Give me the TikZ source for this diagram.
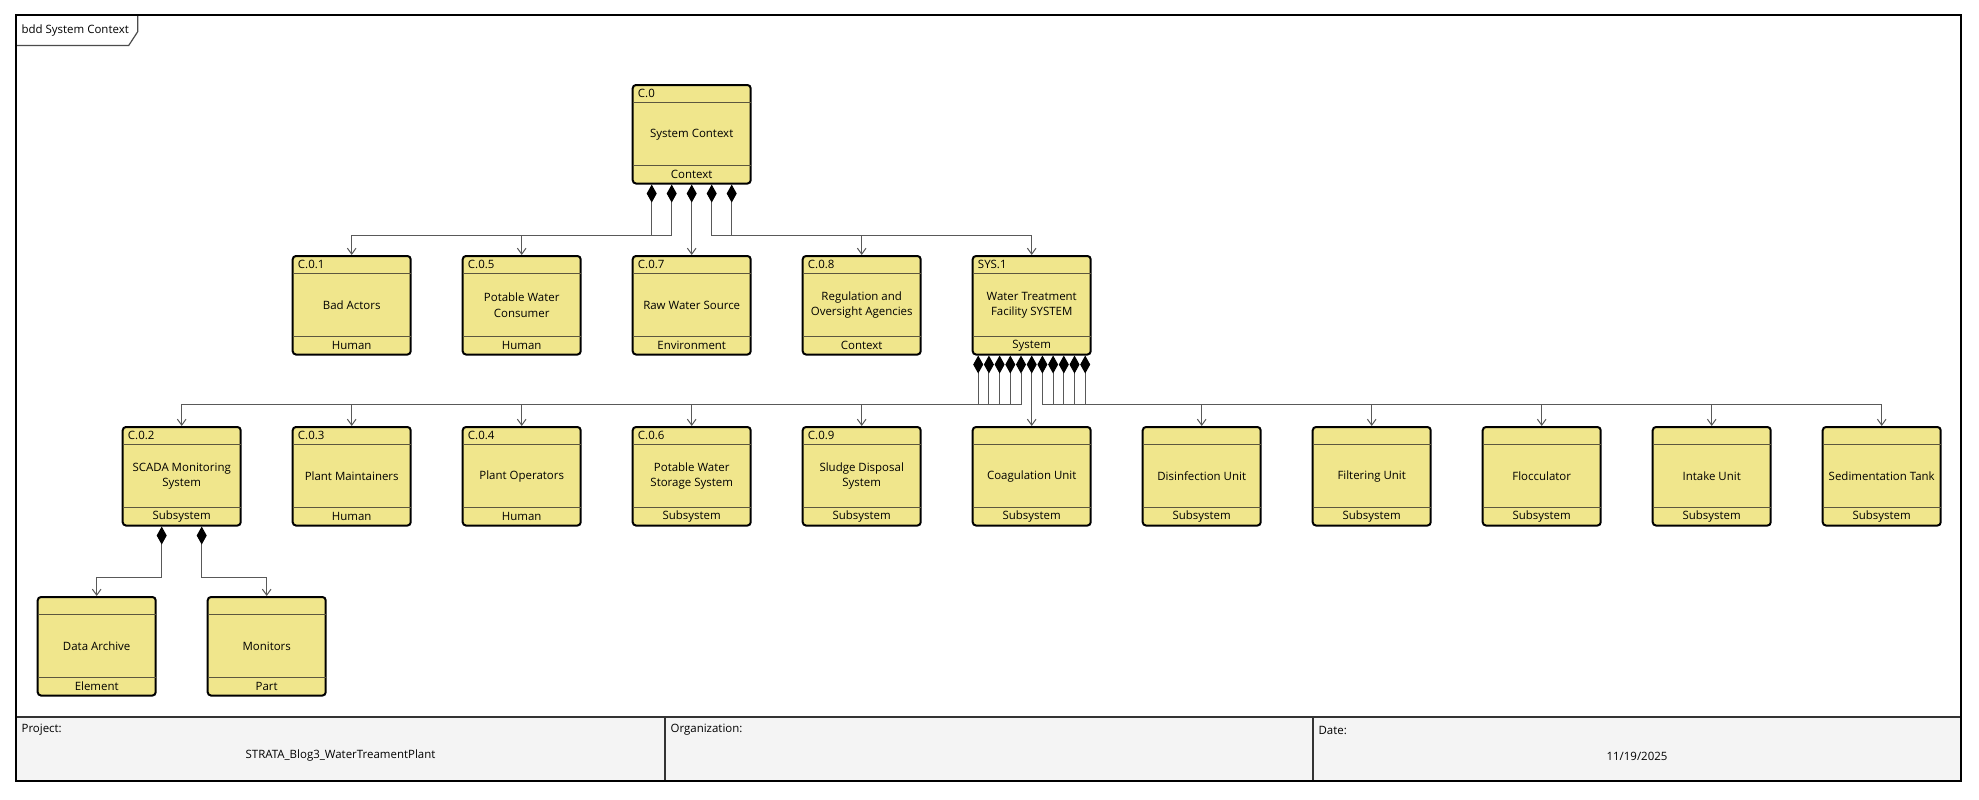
\documentclass[tikz,border=0pt]{standalone}
\usepackage{fontspec}
\setmainfont{Open Sans}
\usetikzlibrary{calc,arrows.meta}
\definecolor{blockfill}{RGB}{240,230,140}
\definecolor{sepline}{RGB}{92,87,62}
\definecolor{footfill}{RGB}{244,244,244}
\newcommand\sysfont{\fontsize{8.6}{11.5}\selectfont}
\tikzset{
	block/.style={draw, line width=1.5pt, rounded corners=2.5pt, fill=blockfill, minimum width=88.5pt, minimum height=73.9pt, inner sep=0pt, align=center, font=\sysfont},
	septext/.style={font=\sysfont, inner sep=1pt},
	sepline/.style={draw=sepline, line width=1.3pt},
	assoc/.style={draw=black!65, line width=0.75pt, arrows={Diamond[length=13.5pt,width=7.5pt,color=black]-Straight Barb[length=4.5pt,width=6.5pt]}},
}
% block: name, x, top, id, text, kind
\def\sysblock(#1)(#2,#3)#4#5#6{%
	\node[block, anchor=north] (#1) at (#2,#3) {#5};
	\draw[sepline] ([xshift=0.75pt,yshift=-13.9pt]#1.north west) -- ([xshift=-0.75pt,yshift=-13.9pt]#1.north east);
	\draw[sepline] ([xshift=0.75pt,yshift=14.2pt]#1.south west) -- ([xshift=-0.75pt,yshift=14.2pt]#1.south east);
	\node[septext, anchor=west] (#1-id) at ([xshift=3.5pt,yshift=-7.2pt]#1.north west) {#4};
	\node[septext] (#1-kind) at ([yshift=7.5pt]#1.south) {#6};
}

\begin{document}
\begin{tikzpicture}[x=0.75pt, y=-0.75pt]
			%%%%% START %%%%%
			
			\fill[white] (0,0) rectangle (1979,799);
			\useasboundingbox (0,0) rectangle (1979,799);
			
			% frame and tab
			\fill[footfill] (16,717) rectangle (1961,781);
			\draw[line width=0.9pt, draw=black!70, fill=white] (16,15) -- (137.7,15) -- (137.7,31.7) -- (128.7,45.5) -- (16,45.5);
			\node[septext, anchor=west] (tab) at (20,30.5) {bdd System Context};
			\draw[line width=1.1pt, draw=black!80] (16,717) -- (1961,717);
			\draw[line width=1.1pt, draw=black!80] (665,717) -- (665,781);
			\draw[line width=1.1pt, draw=black!80] (1313,717) -- (1313,781);
			\draw[line width=1.5pt] (16,15) rectangle (1961,781);
			
			% footer
			\node[septext, anchor=west] (proj-lbl) at (20,730) {Project:};
			\node[septext] (proj) at (340.5,756) {STRATA\_Blog3\_WaterTreamentPlant};
			\node[septext, anchor=west] (org-lbl) at (669,730) {Organization:};
			\node[septext, anchor=west] (date-lbl) at (1317,730) {Date:};
			\node[septext] (date) at (1637,756) {11/19/2025};
			
			% blocks
			\sysblock(c0)(691.7,84){C.0}{System Context}{Context}
			
			\sysblock(c01)(351.7,255){C.0.1}{Bad Actors}{Human}
			\sysblock(c05)(521.7,255){C.0.5}{Potable Water\\Consumer}{Human}
			\sysblock(c07)(691.7,255){C.0.7}{Raw Water Source}{Environment}
			\sysblock(c08)(861.7,255){C.0.8}{Regulation and\\Oversight Agencies}{Context}
			\sysblock(sys1)(1031.7,255){SYS.1}{Water Treatment\\Facility SYSTEM}{System}
			
			\sysblock(c02)(181.7,426){C.0.2}{SCADA Monitoring\\System}{Subsystem}
			\sysblock(c03)(351.7,426){C.0.3}{Plant Maintainers}{Human}
			\sysblock(c04)(521.7,426){C.0.4}{Plant Operators}{Human}
			\sysblock(c06)(691.7,426){C.0.6}{Potable Water\\Storage System}{Subsystem}
			\sysblock(c09)(861.7,426){C.0.9}{Sludge Disposal\\System}{Subsystem}
			\sysblock(coag)(1031.7,426){}{Coagulation Unit}{Subsystem}
			\sysblock(disinf)(1201.7,426){}{Disinfection Unit}{Subsystem}
			\sysblock(filter)(1371.7,426){}{Filtering Unit}{Subsystem}
			\sysblock(floc)(1541.7,426){}{Flocculator}{Subsystem}
			\sysblock(intake)(1711.7,426){}{Intake Unit}{Subsystem}
			\sysblock(sedim)(1881.7,426){}{Sedimentation Tank}{Subsystem}
			
			\sysblock(archive)(96.7,596){}{Data Archive}{Element}
			\sysblock(monitors)(266.7,596){}{Monitors}{Part}
			
			% composition links
			\draw[assoc] (c0.south) -- (c07.north);
			\foreach \dx/\dst in {-40/c01, -20/c05, 20/c08, 40/sys1}
				\draw[assoc] ($(c0.south)+(\dx,0)$) -- ++(0,51) -| (\dst.north);
			
			\draw[assoc] (sys1.south) -- (coag.north);
			\foreach \i/\dst in {0/c02, 1/c03, 2/c04, 3/c06, 4/c09, 6/disinf, 7/filter, 8/floc, 9/intake, 10/sedim}
				\draw[assoc] ($(sys1.south)+({10.7*(\i-5)},0)$) -- ++(0,49) -| (\dst.north);
			
			\draw[assoc] ($(c02.south)+(-20,0)$) -- ++(0,51) -| (archive.north);
			\draw[assoc] ($(c02.south)+(20,0)$) -- ++(0,51) -| (monitors.north);
			
			%%%%% END %%%%%
\end{tikzpicture}
\end{document}
